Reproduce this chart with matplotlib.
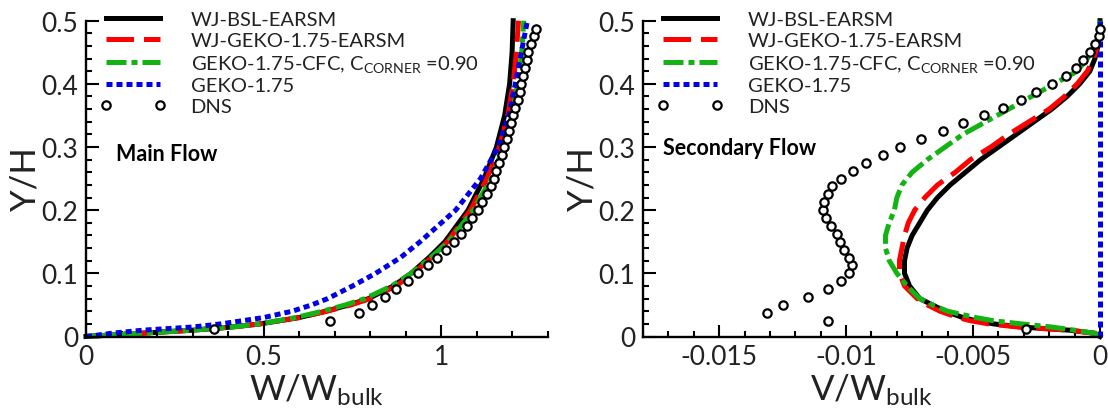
import numpy as np
import matplotlib
matplotlib.use('Agg')
from matplotlib import pyplot as plt
from matplotlib.lines import Line2D
from matplotlib.ticker import MultipleLocator, FuncFormatter

plt.rcParams['font.family'] = ['Lato', 'DejaVu Sans']
plt.rcParams['mathtext.fontset'] = 'custom'
plt.rcParams['mathtext.rm'] = 'Lato'
plt.rcParams['mathtext.it'] = 'Lato:italic'
plt.rcParams['mathtext.bf'] = 'Lato:bold'

# ---- main flow (W/Wbulk vs Y/H) ----
y_main = [0.0, 0.002, 0.005, 0.01, 0.015, 0.02, 0.03, 0.04, 0.05, 0.06, 0.08, 0.10,
          0.125, 0.15, 0.2, 0.25, 0.3, 0.35, 0.4, 0.45, 0.5]
w_bsl = [0.0, 0.06, 0.15, 0.30, 0.41, 0.49, 0.60, 0.675, 0.74, 0.795, 0.865, 0.915,
         0.965, 1.01, 1.075, 1.12, 1.155, 1.178, 1.192, 1.199, 1.202]
w_geko_earsm = [0.0, 0.06, 0.15, 0.30, 0.41, 0.49, 0.60, 0.678, 0.745, 0.80, 0.872, 0.922,
                0.972, 1.017, 1.082, 1.128, 1.163, 1.187, 1.202, 1.211, 1.217]
w_geko_cfc = [0.0, 0.06, 0.15, 0.30, 0.41, 0.49, 0.59, 0.665, 0.73, 0.785, 0.86, 0.915,
              0.97, 1.02, 1.09, 1.14, 1.175, 1.198, 1.215, 1.226, 1.232]
w_geko = [0.0, 0.03, 0.07, 0.16, 0.30, 0.38, 0.50, 0.58, 0.635, 0.68, 0.75, 0.815,
          0.885, 0.94, 1.04, 1.11, 1.16, 1.19, 1.208, 1.225, 1.242]

y_dns = [0.0125, 0.025, 0.0375, 0.05, 0.0625, 0.075, 0.0875, 0.1, 0.1125, 0.125,
         0.1375, 0.15, 0.1625, 0.175, 0.1875, 0.2, 0.2125, 0.225, 0.2375, 0.25,
         0.2625, 0.275, 0.2875, 0.3, 0.3125, 0.325, 0.3375, 0.35, 0.3625, 0.375,
         0.3875, 0.4, 0.4125, 0.425, 0.4375, 0.45, 0.4625, 0.475, 0.4875]
w_dns = [0.361, 0.686, 0.767, 0.805, 0.840, 0.872, 0.905, 0.935, 0.962, 0.989,
         1.012, 1.035, 1.054, 1.072, 1.087, 1.102, 1.115, 1.127, 1.139, 1.147,
         1.155, 1.162, 1.170, 1.177, 1.184, 1.190, 1.197, 1.202, 1.208, 1.215,
         1.220, 1.225, 1.229, 1.234, 1.240, 1.245, 1.252, 1.260, 1.266]

# ---- secondary flow (V/Wbulk vs Y/H) ----
y_sec = [0.0, 0.005, 0.01, 0.015, 0.02, 0.025, 0.03, 0.04, 0.05, 0.06, 0.08, 0.1,
         0.12, 0.14, 0.16, 0.18, 0.2, 0.22, 0.24, 0.26, 0.28, 0.3, 0.32, 0.34,
         0.36, 0.38, 0.4, 0.42, 0.44, 0.46, 0.48, 0.5]
v_bsl = [0.0, -0.0002, -0.0012, -0.0031, -0.0042, -0.0049, -0.0054, -0.0061, -0.0066,
         -0.0071, -0.0075, -0.0077, -0.0077, -0.0076, -0.0074, -0.0071, -0.0068,
         -0.0064, -0.0059, -0.0053, -0.0047, -0.0040, -0.0033, -0.0026, -0.0019,
         -0.0013, -0.0008, -0.0004, -0.0002, -0.00008, -0.00002, 0.0]
v_geko_earsm = [0.0, -0.0002, -0.0012, -0.0032, -0.0044, -0.0051, -0.0056, -0.0063,
                -0.0068, -0.0072, -0.0077, -0.0079, -0.0079, -0.0078, -0.0077, -0.00755,
                -0.0073, -0.0069, -0.0064, -0.0057, -0.0051, -0.0043, -0.0036, -0.0028,
                -0.0020, -0.0014, -0.0009, -0.0005, -0.00025, -0.0001, -0.00003, 0.0]
v_geko_cfc = [0.0, -0.0002, -0.0010, -0.0019, -0.0031, -0.0042, -0.0049, -0.0060,
              -0.0066, -0.0071, -0.0076, -0.0080, -0.0083, -0.00845, -0.00845, -0.0083,
              -0.0081, -0.0080, -0.0078, -0.0074, -0.0068, -0.0061, -0.0054, -0.0045,
              -0.0036, -0.0027, -0.0018, -0.0009, -0.0005, -0.0002, -0.00005, 0.0]
y_geko_sec = [0.0, 0.5]
v_geko = [0.0, 0.0]

v_dns = [-0.0029, -0.0107, -0.0131, -0.0125, -0.0115, -0.0107, -0.0102, -0.0099,
         -0.00977, -0.00988, -0.0101, -0.01024, -0.01036, -0.01061, -0.01079, -0.01091,
         -0.01086, -0.01073, -0.01054, -0.0102, -0.00974, -0.0092, -0.00855, -0.00786,
         -0.00704, -0.00619, -0.00539, -0.00457, -0.00382, -0.00313, -0.00251, -0.00189,
         -0.00135, -0.00096, -0.00066, -0.00038, -0.00018, -0.00004, 0.0]

labels = ['WJ-BSL-EARSM', 'WJ-GEKO-1.75-EARSM',
          r'GEKO-1.75-CFC, C$_{\mathrm{CORNER}}$ =0.90', 'GEKO-1.75', 'DNS']

txt = '#222222'
lw = 3.6
styles = [dict(color='black', ls='-', lw=lw),
          dict(color='#ff0000', ls=(0, (5.5, 2)), lw=lw),
          dict(color='#12b312', ls=(0, (4, 1, 1.2, 1)), lw=lw),
          dict(color='#0000e6', ls=(0, (1.2, 0.8)), lw=lw)]
dns_style = dict(ls='none', marker='o', ms=6, mew=1.6, mec='black', mfc='white')

fig = plt.figure(figsize=(11.08, 4.10), dpi=100)
ax1 = fig.add_axes([86 / 1108, 72.5 / 410, 462 / 1108, 315.8 / 410])
ax2 = fig.add_axes([643 / 1108, 72.5 / 410, 457 / 1108, 315.8 / 410])

for x_list, st in zip([w_bsl, w_geko_earsm, w_geko_cfc, w_geko], styles):
    ax1.plot(x_list, y_main, dash_capstyle='butt', clip_on=False, **st)
ax1.plot(w_dns, y_dns, clip_on=False, **dns_style)

for x_list, st in zip([v_bsl, v_geko_earsm, v_geko_cfc], styles[:3]):
    ax2.plot(x_list, y_sec, dash_capstyle='butt', clip_on=False, **st)
ax2.plot(v_geko, y_geko_sec, dash_capstyle='butt', clip_on=False, **styles[3])
ax2.plot(v_dns, y_dns, clip_on=False, **dns_style)

fmt = FuncFormatter(lambda v, p: '%g' % round(v, 6))

for ax, axw in [(ax1, 462), (ax2, 457)]:
    ax.set_ylim(0, 0.5)
    ax.yaxis.set_major_locator(MultipleLocator(0.1))
    ax.yaxis.set_minor_locator(MultipleLocator(0.02))
    ax.yaxis.set_major_formatter(fmt)
    ax.xaxis.set_major_formatter(fmt)
    ax.spines['top'].set_visible(False)
    ax.spines['right'].set_visible(False)
    for s in ['left', 'bottom']:
        ax.spines[s].set_linewidth(1.7)
    ax.tick_params(which='both', direction='in', width=1.5, colors='black',
                   labelcolor=txt, labelsize=19, pad=5.5, top=False, right=False)
    ax.tick_params(which='major', length=9)
    ax.tick_params(which='minor', length=4.5)
    ax.set_ylabel('Y/H', fontsize=25, color=txt, labelpad=0)

    handles = [Line2D([], [], dash_capstyle='butt', **st) for st in styles]
    handles.append(Line2D([], [], **dns_style))
    ax.legend(handles, labels, loc='upper left', bbox_to_anchor=(14 / axw, 1.03),
              frameon=False, fontsize=14.5, borderpad=0, borderaxespad=0,
              handlelength=3.3, handletextpad=1.2, labelspacing=0.18, numpoints=2,
              labelcolor=txt)

ax1.set_xlim(0, 1.3)
ax1.xaxis.set_major_locator(MultipleLocator(0.5))
ax1.xaxis.set_minor_locator(MultipleLocator(0.1))
ax1.set_xlabel(r'W/W$_{\mathrm{bulk}}$', fontsize=25, color=txt, labelpad=2)
ax1.text(0.085, 0.289, 'Main Flow', fontsize=15.5, fontweight='bold', color='black',
         ha='left', va='center')

ax2.set_xlim(-0.018, 0)
ax2.xaxis.set_major_locator(MultipleLocator(0.005))
ax2.xaxis.set_minor_locator(MultipleLocator(0.001))
ax2.set_xlabel(r'V/W$_{\mathrm{bulk}}$', fontsize=25, color=txt, labelpad=2)
ax2.text(-0.0172, 0.30, 'Secondary Flow', fontsize=15.5, fontweight='bold', color='black',
         ha='left', va='center')

fig.savefig('out.png', dpi=100)
